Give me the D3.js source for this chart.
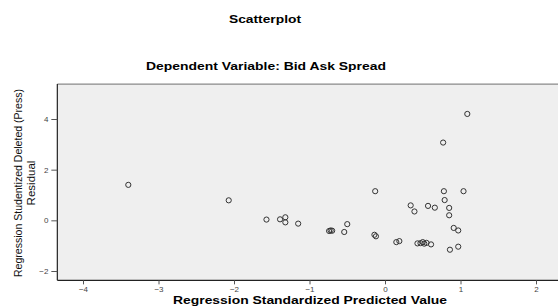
<!DOCTYPE html>
<html>
<head>
<meta charset="utf-8">
<script src="https://cdn.jsdelivr.net/npm/d3@7"></script>
<style>
  body { margin: 0; background: #fff; }
  svg { display: block; font-family: Arial, "Liberation Sans", sans-serif; }
</style>
</head>
<body>
<div id="chart"></div>
<script>
// Chart data
const predicted = [-3.40, -2.07, -1.57, -1.39, -1.32, -1.32, -1.15, -0.74, -0.72, -0.70,
  -0.50, -0.54, -0.14, -0.12, 0.15, 0.19, 0.43, 0.47, 0.50, 0.52,
  0.55, 0.61, 0.91, 0.97, 0.86, 0.97, 0.85, 0.85, 0.66, 0.57,
  0.34, 0.39, 0.79, 0.78, 1.04, -0.13, 0.77, 1.09];
const residual = [1.40, 0.79, 0.03, 0.04, 0.12, -0.08, -0.13, -0.42, -0.40, -0.41,
  -0.15, -0.46, -0.57, -0.63, -0.86, -0.82, -0.91, -0.90, -0.86, -0.92,
  -0.89, -0.95, -0.30, -0.40, -1.16, -1.04, 0.20, 0.49, 0.50, 0.57,
  0.59, 0.35, 0.80, 1.15, 1.15, 1.15, 3.07, 4.20];
const xTicks = [-4, -3, -2, -1, 0, 1, 2];
const yTicks = [-2, 0, 2, 4];

const width = 558;
const height = 307;

// Scales
const x = d3.scaleLinear().domain([-4, 2]).range([83, 536]);
const y = d3.scaleLinear().domain([-2, 4]).range([271, 119]);

const svg = d3.select("#chart")
  .append("svg")
  .attr("width", width)
  .attr("height", height);

// Titles (reference glyphs look a bit stretched, so stretch glyphs too)
svg.append("text")
  .attr("x", 265).attr("y", 23)
  .attr("text-anchor", "middle")
  .style("font-size", "11px").style("font-weight", "bold")
  .attr("textLength", 72).attr("lengthAdjust", "spacingAndGlyphs")
  .text("Scatterplot");

svg.append("text")
  .attr("x", 266).attr("y", 70)
  .attr("text-anchor", "middle")
  .style("font-size", "11.5px").style("font-weight", "bold")
  .attr("textLength", 240).attr("lengthAdjust", "spacingAndGlyphs")
  .text("Dependent Variable: Bid Ask Spread");

// Plot area
const plotLeft = x(-4.34), plotTop = y(5.38), plotBottom = y(-2.37);
svg.append("rect")
  .attr("x", plotLeft).attr("y", plotTop)
  .attr("width", width + 10 - plotLeft).attr("height", plotBottom - plotTop)
  .attr("fill", "#efefef");

svg.append("line")
  .attr("x1", plotLeft).attr("x2", width + 10)
  .attr("y1", plotTop).attr("y2", plotTop)
  .attr("stroke", "#8a8a8a").attr("stroke-width", 1.2);

// Axes
const xAxis = svg.append("g")
  .attr("transform", `translate(0,${plotBottom})`)
  .call(d3.axisBottom(x).tickValues(xTicks).tickFormat(d3.format("d"))
    .tickSize(4).tickPadding(2).tickSizeOuter(0));
const yAxis = svg.append("g")
  .attr("transform", `translate(${plotLeft},0)`)
  .call(d3.axisLeft(y).tickValues(yTicks).tickFormat(d3.format("d"))
    .tickSize(6).tickPadding(3).tickSizeOuter(0));

xAxis.select(".domain").attr("d", `M${plotLeft},0H${width + 10}`);
yAxis.select(".domain").attr("d", `M0,${plotTop}V${plotBottom}`);
[xAxis, yAxis].forEach(g => {
  g.select(".domain").attr("stroke", "#222").attr("stroke-width", 1.2);
  g.selectAll(".tick line").attr("stroke", "#555");
  g.selectAll(".tick text")
    .attr("fill", "#444")
    .style("font-size", "8px")
    .style("font-family", "Arial, 'Liberation Sans', sans-serif");
});

// Axis titles
svg.append("text")
  .attr("x", 310).attr("y", 304)
  .attr("text-anchor", "middle")
  .style("font-size", "11.5px").style("font-weight", "bold")
  .attr("textLength", 274).attr("lengthAdjust", "spacingAndGlyphs")
  .text("Regression Standardized Predicted Value");

const yLab = svg.append("g")
  .attr("transform", "translate(0,183) rotate(-90)")
  .style("font-family", "'Liberation Sans Narrow', 'Arial Narrow', Arial, sans-serif")
  .style("font-size", "11.5px")
  .attr("fill", "#111");
yLab.append("text")
  .attr("x", 0).attr("y", 22)
  .attr("text-anchor", "middle")
  .attr("textLength", 188).attr("lengthAdjust", "spacingAndGlyphs")
  .text("Regression Studentized Deleted (Press)");
yLab.append("text")
  .attr("x", 0).attr("y", 35)
  .attr("text-anchor", "middle")
  .text("Residual");

// Points
svg.append("g")
  .selectAll("circle")
  .data(predicted.map((p, i) => [p, residual[i]]))
  .join("circle")
    .attr("cx", d => x(d[0]))
    .attr("cy", d => y(d[1]))
    .attr("r", 2.6)
    .attr("fill", "none")
    .attr("stroke", "#333")
    .attr("stroke-width", 1);
</script>
</body>
</html>
